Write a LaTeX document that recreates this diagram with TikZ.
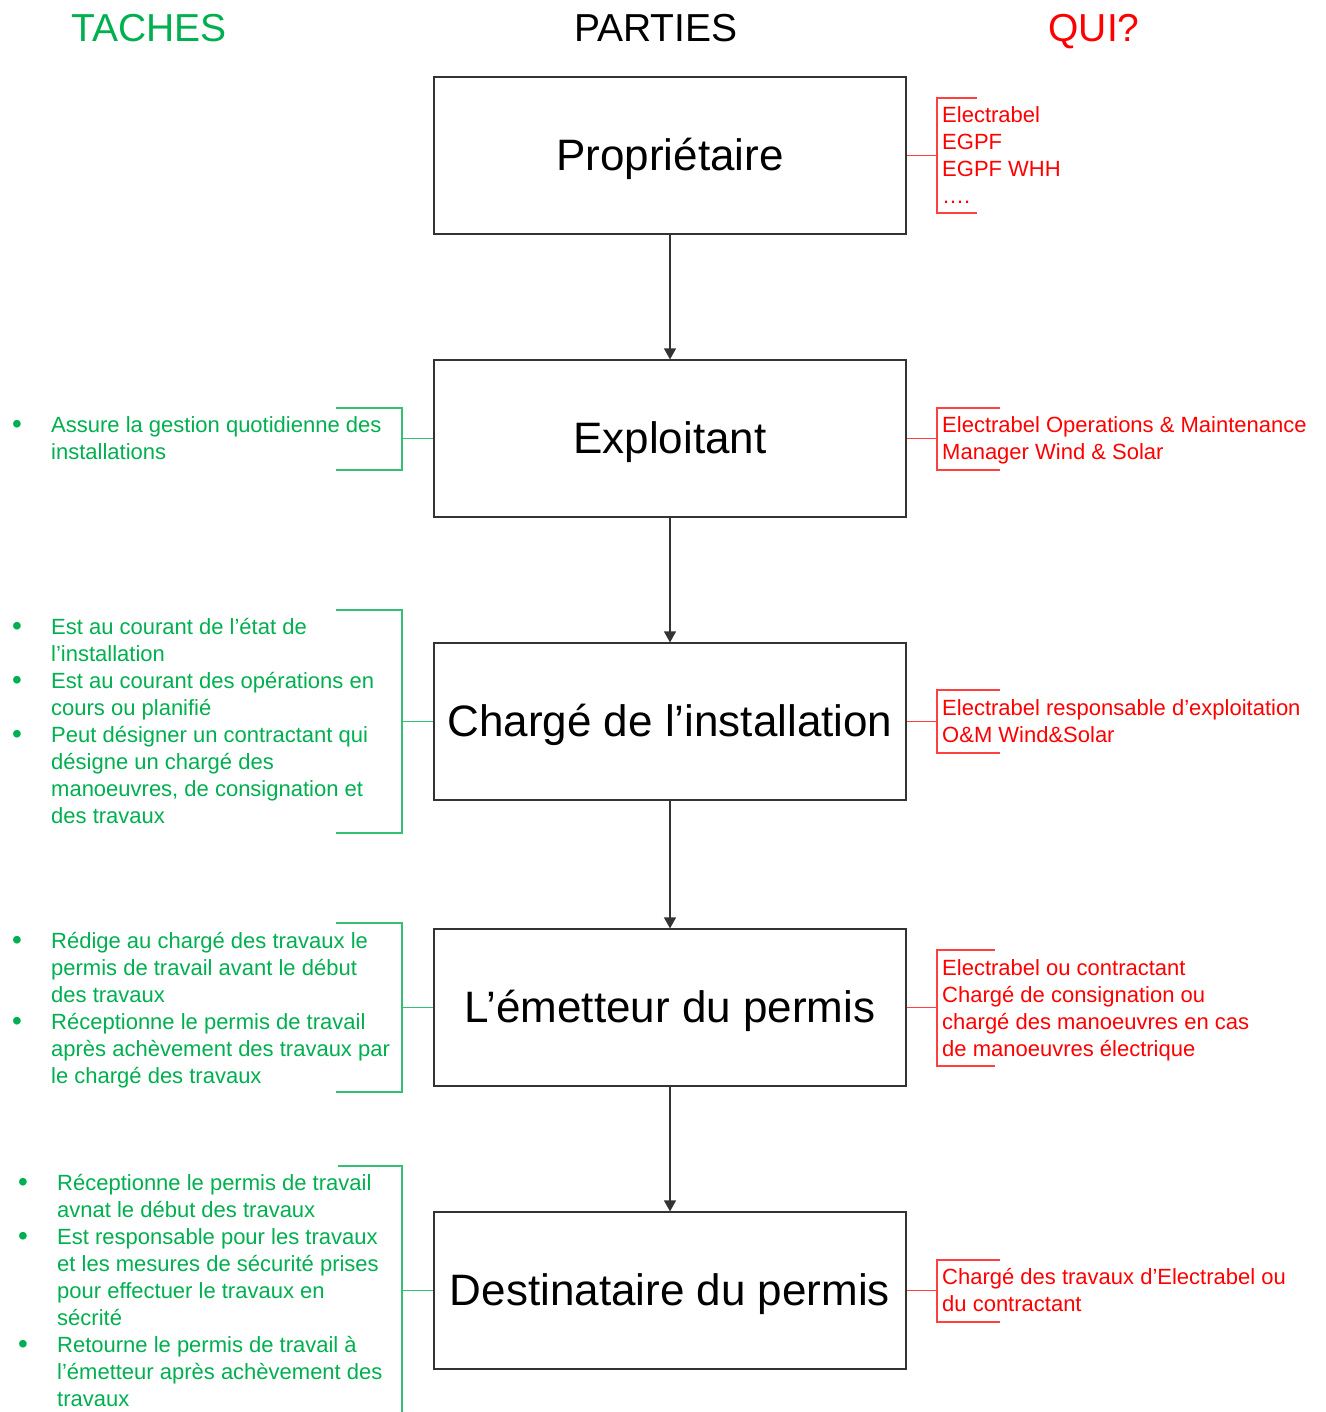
\documentclass[tikz,border=0pt]{standalone}
\usepackage{fontspec}
\setmainfont{Liberation Sans}
\usetikzlibrary{arrows.meta}
\definecolor{vgreen}{RGB}{0,176,80}
\definecolor{vred}{RGB}{255,0,0}
\newcommand{\gsz}{\fontsize{22}{27}\selectfont}
\newcommand{\gbul}{\raisebox{-1pt}{\fontsize{28}{27}\selectfont\textbullet}}
\begin{document}
\begin{tikzpicture}[x=1pt,y=-1pt,
 box/.style={draw=black!80,line width=1.2pt,minimum width=472pt,minimum height=157pt,inner sep=0pt,
   font=\fontsize{44}{50}\selectfont,text height=39.8pt,text depth=9.3pt},
 flow/.style={draw=black!80,line width=1.2pt,-{Triangle[length=11pt,width=12pt]}},
 gbr/.style={draw=vgreen!80,line width=1.3pt},
 rbr/.style={draw=vred!75,line width=1.3pt},
 gtxt/.style={text=vgreen,anchor=west,inner sep=0pt,font=\gsz,align=left},
 rtxt/.style={text=vred,anchor=west,inner sep=0pt,font=\gsz,align=left},
 head/.style={font=\fontsize{39}{46}\selectfont,inner sep=0pt,anchor=base}]
\useasboundingbox (0,0) rectangle (1325,1412);
\fill[white] (0,0) rectangle (1325,1412);

% headers
\node[head,text=vgreen] (hT) at (149,42) {TACHES};
\node[head,text=black] (hP) at (656,42) {PARTIES};
\node[head,text=vred] (hQ) at (1094,42) {QUI?};

% boxes
\node[box] (pr) at (670,155.5) {Propriétaire};
\node[box] (ex) at (670,438.5) {Exploitant};
\node[box] (ch) at (670,721.5) {Chargé de l’installation};
\node[box] (em) at (670,1007.5) {L’émetteur du permis};
\node[box] (de) at (670,1290.5) {Destinataire du permis};

\draw[flow] (pr.south) -- (ex.north);
\draw[flow] (ex.south) -- (ch.north);
\draw[flow] (ch.south) -- (em.north);
\draw[flow] (em.south) -- (de.north);

% red brackets
\coordinate (rp) at (937,155.5);
\draw[rbr] (pr.east) -- (rp);
\draw[rbr] (977,98) -- (937,98) -- (937,213) -- (977,213);
\node[rtxt] (tp) at (942,157.5) {\begin{tabular}{@{}l@{}}Electrabel\\EGPF\\EGPF WHH\\….\end{tabular}};

\coordinate (re) at (937,438.5);
\draw[rbr] (ex.east) -- (re);
\draw[rbr] (1000,408) -- (937,408) -- (937,470) -- (1000,470);
\node[rtxt] (te) at (942,440.7) {\begin{tabular}{@{}l@{}}Electrabel Operations \& Maintenance\\Manager Wind \& Solar\end{tabular}};

\coordinate (rc) at (937,721.5);
\draw[rbr] (ch.east) -- (rc);
\draw[rbr] (1000,690) -- (937,690) -- (937,753) -- (1000,753);
\node[rtxt] (tc) at (942,723.7) {\begin{tabular}{@{}l@{}}Electrabel responsable d’exploitation\\O\&M Wind\&Solar\end{tabular}};

\coordinate (rm) at (937,1007.5);
\draw[rbr] (em.east) -- (rm);
\draw[rbr] (995,950) -- (937,950) -- (937,1066) -- (995,1066);
\node[rtxt] (tm) at (942,1010.2) {\begin{tabular}{@{}l@{}}Electrabel ou contractant\\Chargé de consignation ou\\chargé des manoeuvres en cas\\de manoeuvres électrique\end{tabular}};

\coordinate (rd) at (937,1290.5);
\draw[rbr] (de.east) -- (rd);
\draw[rbr] (1000,1260) -- (937,1260) -- (937,1322) -- (1000,1322);
\node[rtxt] (td) at (942,1293) {\begin{tabular}{@{}l@{}}Chargé des travaux d’Electrabel ou\\du contractant\end{tabular}};

% green brackets
\coordinate (ge) at (402,438.5);
\draw[gbr] (ex.west) -- (ge);
\draw[gbr] (336,408) -- (402,408) -- (402,470) -- (336,470);
\node[gtxt] (le) at (12,441) {\begin{tabular}{@{}p{39pt}@{}l@{}}
\gbul & Assure la gestion quotidienne des\\
 & installations
\end{tabular}};

\coordinate (gc) at (402,721.5);
\draw[gbr] (ch.west) -- (gc);
\draw[gbr] (336,610) -- (402,610) -- (402,833) -- (336,833);
\node[gtxt] (lc) at (12,724) {\begin{tabular}{@{}p{39pt}@{}l@{}}
\gbul & Est au courant de l’état de\\
 & l’installation\\
\gbul & Est au courant des opérations en\\
 & cours ou planifié\\
\gbul & Peut désigner un contractant qui\\
 & désigne un chargé des\\
 & manoeuvres, de consignation et\\
 & des travaux
\end{tabular}};

\coordinate (gm) at (402,1007.5);
\draw[gbr] (em.west) -- (gm);
\draw[gbr] (336,923) -- (402,923) -- (402,1092) -- (336,1092);
\node[gtxt] (lm) at (12,1010.5) {\begin{tabular}{@{}p{39pt}@{}l@{}}
\gbul & Rédige au chargé des travaux le\\
 & permis de travail avant le début\\
 & des travaux\\
\gbul & Réceptionne le permis de travail\\
 & après achèvement des travaux par\\
 & le chargé des travaux
\end{tabular}};

\coordinate (gd) at (402,1290.5);
\draw[gbr] (de.west) -- (gd);
\draw[gbr] (338,1166) -- (402,1166) -- (402,1416) -- (338,1416);
\node[gtxt] (ld) at (18,1293.5) {\begin{tabular}{@{}p{39pt}@{}l@{}}
\gbul & Réceptionne le permis de travail\\
 & avnat le début des travaux\\
\gbul & Est responsable pour les travaux\\
 & et les mesures de sécurité prises\\
 & pour effectuer le travaux en\\
 & sécrité\\
\gbul & Retourne le permis de travail à\\
 & l’émetteur après achèvement des\\
 & travaux
\end{tabular}};
\end{tikzpicture}
\end{document}
